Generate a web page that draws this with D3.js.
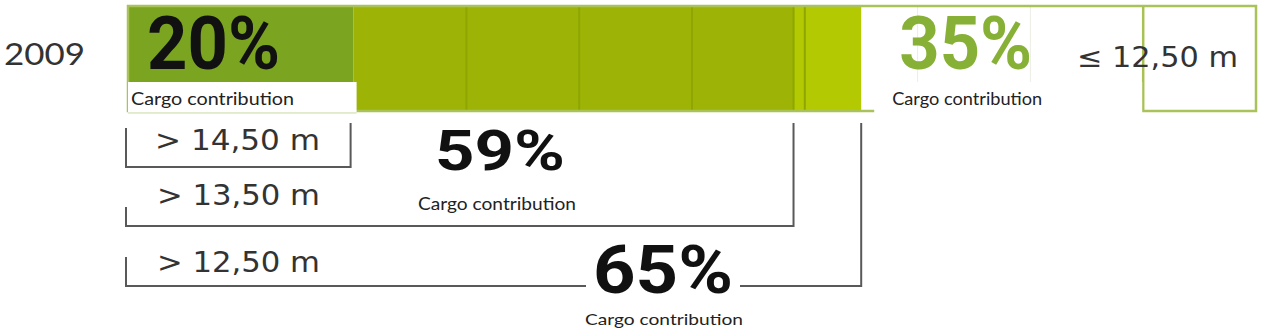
<!DOCTYPE html>
<html><head><meta charset="utf-8">
<script src="https://cdn.jsdelivr.net/npm/d3@7"></script>
<style>html,body{margin:0;padding:0;background:#fff;} svg{display:block;}</style>
</head><body><svg id="c" width="1269" height="329"></svg>
<script>
// ---- data ----
const year = "2009";
const categories = ["> 14,50 m", "> 13,50 m", "> 12,50 m", "≤ 12,50 m"];
const contributions = [20, 59, 65, 35];
const gridTicks = [30, 40, 50, 60, 70, 80, 90];
const contributionLabel = "Cargo contribution";

// ---- layout ----
const svg = d3.select("#c");
const W = 1269, H = 329;
svg.append("rect").attr("width", W).attr("height", H).attr("fill", "#fff");
const x = d3.scaleLinear().domain([0, 100]).range([128, 1256]);
const barTop = 6, barBot = 111;

function txt(px, py, s, size, weight, family, fill, len) {
  const t = svg.append("text").attr("x", px).attr("y", py).text(s)
    .attr("font-size", size).attr("font-weight", weight)
    .attr("font-family", family).attr("fill", fill);
  if (len) t.attr("textLength", len).attr("lengthAdjust", "spacingAndGlyphs");
  return t;
}

// segments of the bar
const stops = [0, contributions[0], contributions[1], contributions[2]];
const segColors = ["#7ba420", "#9db407", "#b3ca02"];
const segs = d3.range(3).map(i => ({from: stops[i], to: stops[i + 1], c: segColors[i]}));
svg.selectAll("rect.seg").data(segs).join("rect").attr("class", "seg")
  .attr("x", d => x(d.from)).attr("width", d => x(d.to) - x(d.from))
  .attr("y", barTop).attr("height", barBot - barTop).attr("fill", d => d.c);

// grid lines
const grid = [contributions[1]].concat(gridTicks);
svg.selectAll("line.grid").data(grid).join("line").attr("class", "grid")
  .attr("x1", d => x(d)).attr("x2", d => x(d))
  .attr("y1", barTop).attr("y2", barBot)
  .attr("stroke", d => d === 90 ? "#a7c152" : (d < contributions[2] ? "#8ea502" : "#eceee4"))
  .attr("stroke-width", d => d === 90 ? 2.5 : (d < contributions[2] ? 2 : 1));

// outline
svg.append("rect").attr("x", x(0)).attr("y", barTop).attr("width", x(100) - x(0))
  .attr("height", barBot - barTop).attr("fill", "none")
  .attr("stroke", "#a9c25a").attr("stroke-width", 2.5);

// label boxes inside bar
svg.append("rect").attr("x", x(0)).attr("y", 82).attr("width", x(contributions[0]) - x(0) + 3)
  .attr("height", 30).attr("fill", "#fff");
svg.append("line").attr("x1", x(0)).attr("x2", x(contributions[0]) + 3).attr("y1", 113).attr("y2", 113)
  .attr("stroke", "#dfe8c8").attr("stroke-width", 1.5);
svg.append("rect").attr("x", x(contributions[2]) + 13).attr("y", 82)
  .attr("width", x(90) - x(contributions[2]) - 14).attr("height", 32).attr("fill", "#fff");

// year
txt(4, 65, year, 31, 400, "Lato", "#333", 81);

// big percentages inside bar
txt(147, 69, contributions[0] + "%", 74, 700, "Roboto", "#111", 133);
txt(x(contributions[2]) + 38, 69, contributions[3] + "%", 74, 700, "Roboto", "#86b036", 133);
txt(131, 105, contributionLabel, 18, 400, "Lato", "#222", 163);
txt(x(contributions[2]) + 31, 105, contributionLabel, 17, 400, "Lato", "#222", 150);
txt(1077, 67, categories[3], 28, 400, "DejaVu Sans", "#333", 161);

// brackets
const brackets = [
  {v: contributions[0], bottom: 167, leftTop: 128},
  {v: contributions[1], bottom: 226, leftTop: 207},
  {v: contributions[2], bottom: 286, leftTop: 257}
];
svg.selectAll("path.br").data(brackets).join("path").attr("class", "br")
  .attr("d", d => {
    const p = d3.path();
    const rx = x(d.v) + (d.v === contributions[0] ? -3 : 0);
    p.moveTo(126, d.leftTop); p.lineTo(126, d.bottom);
    p.lineTo(rx, d.bottom);
    p.lineTo(rx, 123);
    return p.toString();
  })
  .attr("fill", "none").attr("stroke", "#595959").attr("stroke-width", 2);

// category labels
const labY = [150, 205, 272];
categories.slice(0, 3).forEach((c, i) => {
  txt(i === 0 ? 155 : 157, labY[i], c, 29, 400, "DejaVu Sans", "#333", i === 0 ? 165 : 163);
});

// 59% label
txt(435, 170, contributions[1] + "%", 56, 700, "Roboto", "#111", 130);
txt(418, 210, contributionLabel, 18, 400, "Lato", "#222", 158);

// 65% label with white backing
svg.append("rect").attr("x", 586).attr("y", 240).attr("width", 154).attr("height", 60).attr("fill", "#fff");
txt(593, 293, contributions[2] + "%", 66, 700, "Roboto", "#111", 140);
txt(585, 325, contributionLabel, 16, 400, "Lato", "#222", 158);
</script></body></html>
